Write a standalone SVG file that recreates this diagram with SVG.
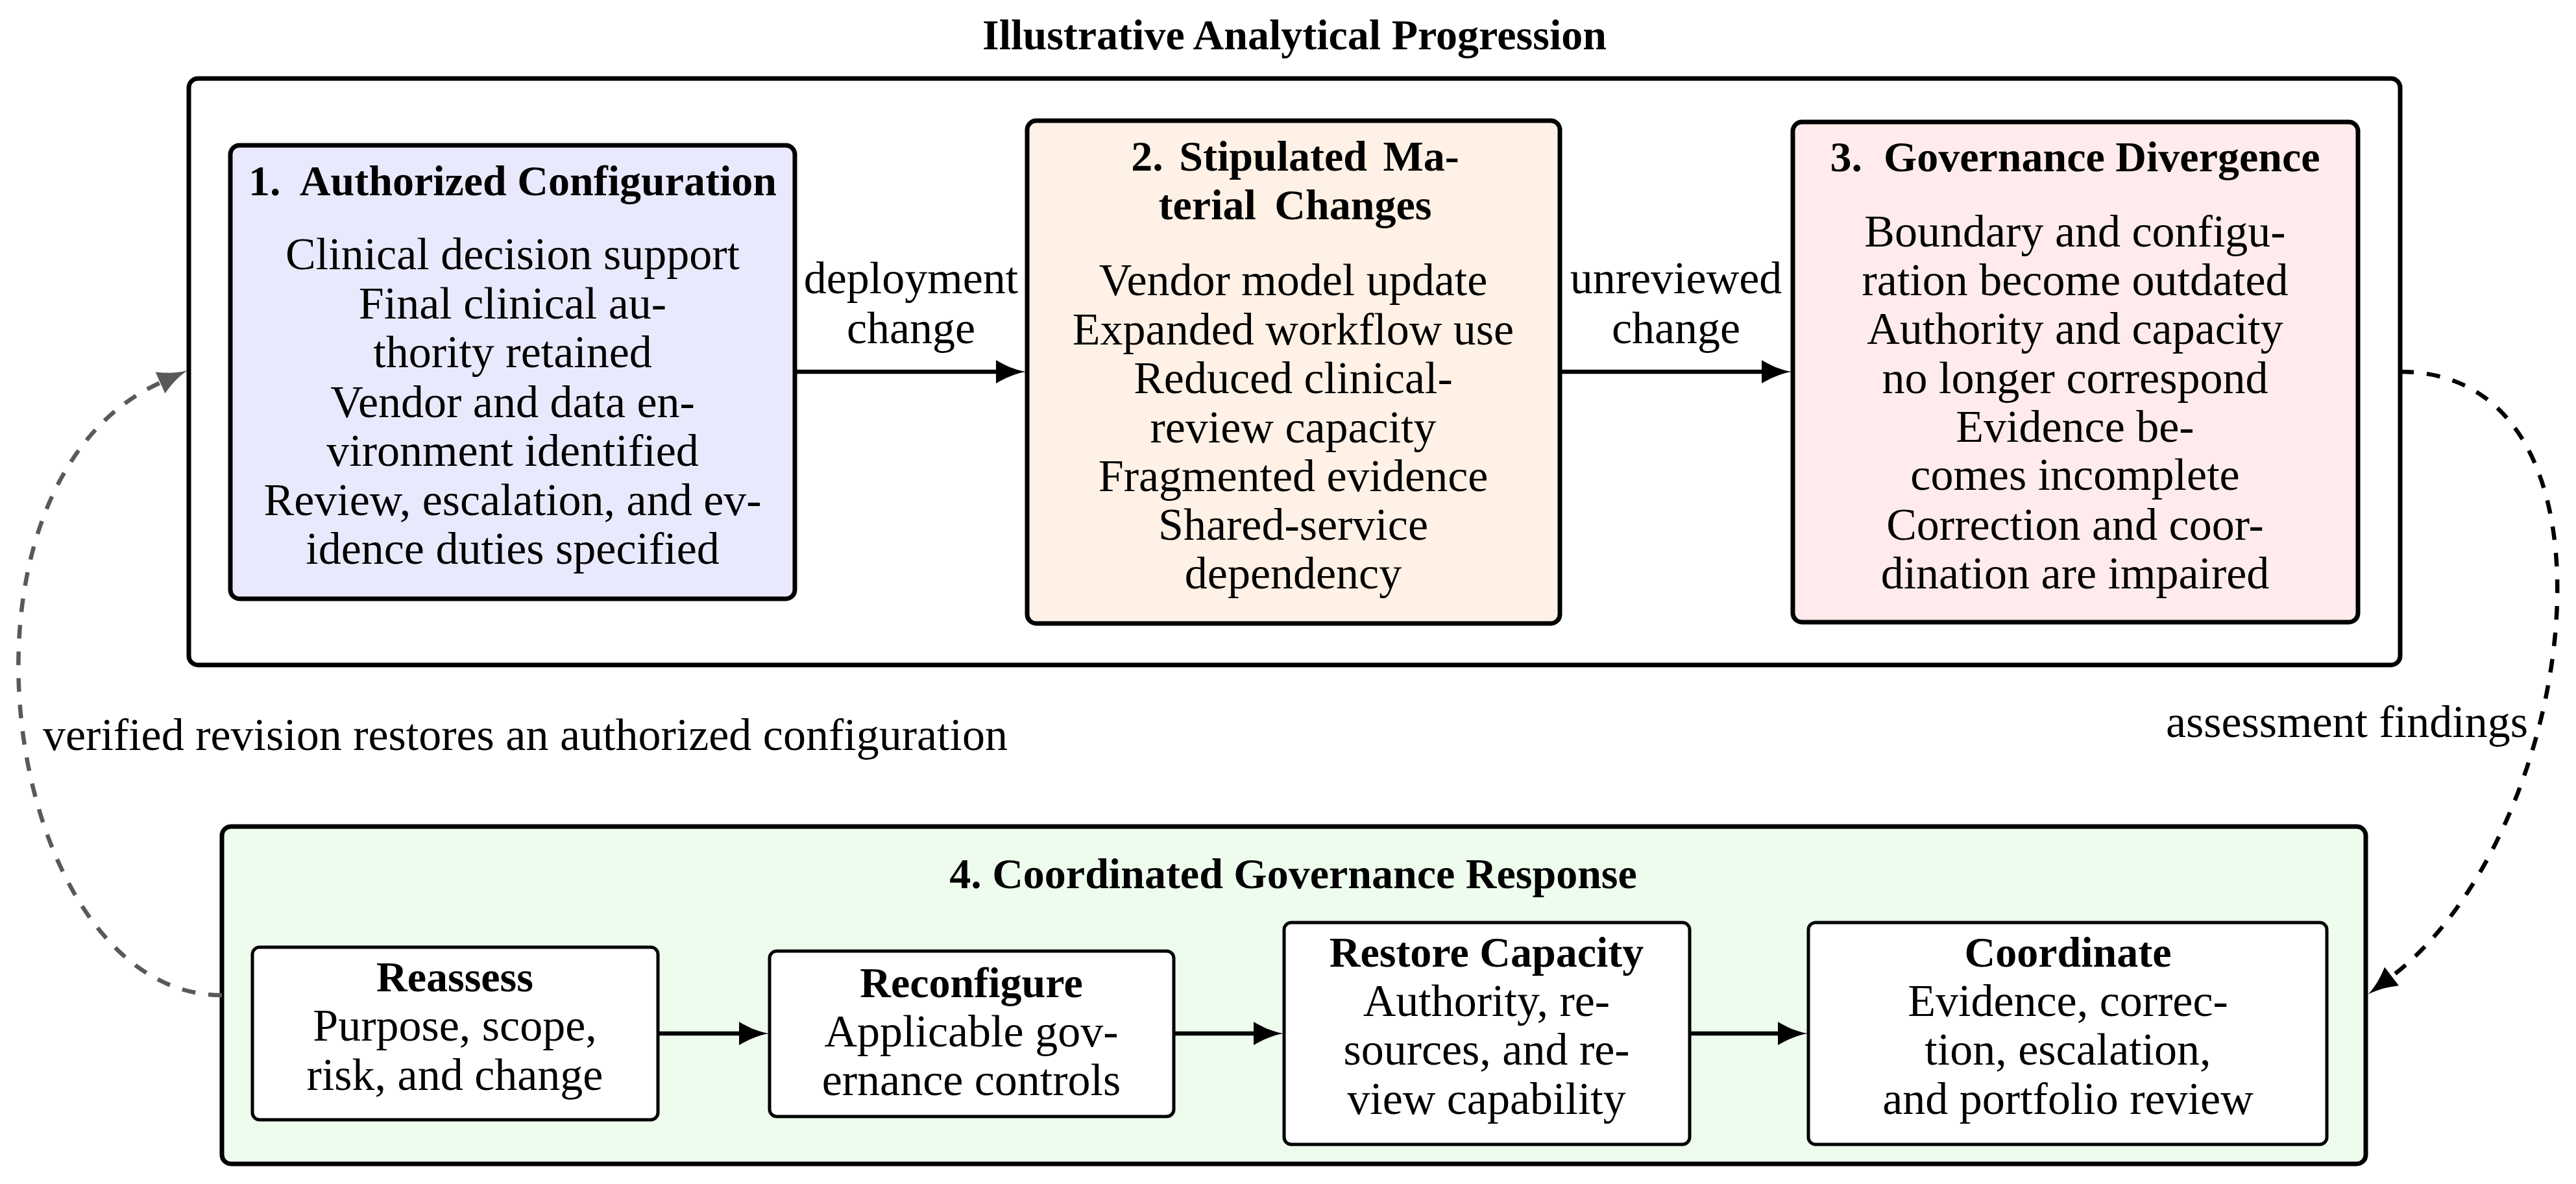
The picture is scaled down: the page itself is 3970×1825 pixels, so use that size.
<svg xmlns="http://www.w3.org/2000/svg" width="3970" height="1825" viewBox="0 0 3970 1825">
<style>
.frame{fill:#fff;stroke:#000;stroke-width:7}
.big{stroke:#000;stroke-width:7}
.small{fill:#fff;stroke:#000;stroke-width:5}
.t{font-family:"Liberation Serif","Times New Roman",serif;font-size:70px;text-anchor:middle;fill:#000}
.b{font-weight:bold;font-size:66px}
.l{font-family:"Liberation Serif","Times New Roman",serif;font-size:70px;fill:#000}
.arr{fill:none;stroke:#000;stroke-width:6.5;marker-end:url(#ah)}
.dash{fill:none;stroke:#000;stroke-width:6.5;stroke-dasharray:21 20;marker-end:url(#ah)}
.gdash{fill:none;stroke:#595959;stroke-width:6.5;stroke-dasharray:21 20;marker-end:url(#ahg)}
</style>
<defs>
<marker id="ah" markerUnits="userSpaceOnUse" markerWidth="50" markerHeight="40" viewBox="0 -20 50 40" refX="0" refY="0" orient="auto" overflow="visible">
<path d="M0,-18 C14,-10 28,-3 46,0 C28,3 14,10 0,18 Z" fill="#000"/>
</marker>
<marker id="ahg" markerUnits="userSpaceOnUse" markerWidth="50" markerHeight="40" viewBox="0 -20 50 40" refX="0" refY="0" orient="auto" overflow="visible">
<path d="M0,-18 C14,-10 28,-3 46,0 C28,3 14,10 0,18 Z" fill="#595959"/>
</marker>
</defs>

<text class="t b" x="1995" y="76">Illustrative Analytical Progression</text>

<g id="progression-frame">
<rect class="frame" x="291" y="121" width="3408" height="904" rx="14"/>
</g>

<g id="node1">
<rect class="big" x="355" y="224" width="870" height="699" rx="14" fill="#E9E9FD"/>
<text class="t b" x="790" y="301">1.&#160; Authorized Configuration</text>
<text class="t" x="790" y="415">Clinical decision support</text>
<text class="t" x="790" y="491">Final clinical au-</text>
<text class="t" x="790" y="566">thority retained</text>
<text class="t" x="790" y="643">Vendor and data en-</text>
<text class="t" x="790" y="718">vironment identified</text>
<text class="t" x="790" y="794">Review, escalation, and ev-</text>
<text class="t" x="790" y="869">idence duties specified</text>
</g>

<g id="node2">
<rect class="big" x="1583" y="186" width="821" height="775" rx="14" fill="#FFF1E5"/>
<text class="t b" x="1996" y="263" word-spacing="8">2. Stipulated Ma-</text>
<text class="t b" x="1996" y="338" word-spacing="12">terial Changes</text>
<text class="t" x="1993" y="455">Vendor model update</text>
<text class="t" x="1993" y="531">Expanded workflow use</text>
<text class="t" x="1993" y="606">Reduced clinical-</text>
<text class="t" x="1993" y="682">review capacity</text>
<text class="t" x="1993" y="757">Fragmented evidence</text>
<text class="t" x="1993" y="832">Shared-service</text>
<text class="t" x="1993" y="907">dependency</text>
</g>

<g id="node3">
<rect class="big" x="2763" y="188" width="871" height="771" rx="14" fill="#FFEBEB"/>
<text class="t b" x="3198" y="264">3.&#160; Governance Divergence</text>
<text class="t" x="3198" y="380">Boundary and configu-</text>
<text class="t" x="3198" y="455">ration become outdated</text>
<text class="t" x="3198" y="530">Authority and capacity</text>
<text class="t" x="3198" y="606">no longer correspond</text>
<text class="t" x="3198" y="681">Evidence be-</text>
<text class="t" x="3198" y="755">comes incomplete</text>
<text class="t" x="3198" y="832">Correction and coor-</text>
<text class="t" x="3198" y="907">dination are impaired</text>
</g>

<g id="node4">
<rect class="big" x="342" y="1274" width="3304" height="520" rx="14" fill="#EEFCEE"/>
<text class="t b" x="1993" y="1369">4. Coordinated Governance Response</text>
</g>

<g id="reassess">
<rect class="small" x="389" y="1460" width="625" height="266" rx="11"/>
<text class="t b" x="701" y="1528">Reassess</text>
<text class="t" x="701" y="1604">Purpose, scope,</text>
<text class="t" x="701" y="1680">risk, and change</text>
</g>

<g id="reconfigure">
<rect class="small" x="1186" y="1466" width="623" height="255" rx="11"/>
<text class="t b" x="1497" y="1537">Reconfigure</text>
<text class="t" x="1497" y="1613">Applicable gov-</text>
<text class="t" x="1497" y="1688">ernance controls</text>
</g>

<g id="restore">
<rect class="small" x="1979" y="1422" width="625" height="342" rx="11"/>
<text class="t b" x="2291" y="1490">Restore Capacity</text>
<text class="t" x="2291" y="1566">Authority, re-</text>
<text class="t" x="2291" y="1641">sources, and re-</text>
<text class="t" x="2291" y="1717">view capability</text>
</g>

<g id="coordinate">
<rect class="small" x="2787" y="1422" width="799" height="342" rx="11"/>
<text class="t b" x="3187" y="1490">Coordinate</text>
<text class="t" x="3187" y="1566">Evidence, correc-</text>
<text class="t" x="3187" y="1641">tion, escalation,</text>
<text class="t" x="3187" y="1717">and portfolio review</text>
</g>

<g id="connectors">
<line class="arr" x1="1225" y1="573" x2="1535" y2="573"/>
<text class="t" x="1404" y="452">deployment</text>
<text class="t" x="1404" y="529">change</text>
<line class="arr" x1="2404" y1="573" x2="2715" y2="573"/>
<text class="t" x="2583" y="452">unreviewed</text>
<text class="t" x="2583" y="529">change</text>
<line class="arr" x1="1014" y1="1593" x2="1139" y2="1593"/>
<line class="arr" x1="1809" y1="1593" x2="1932" y2="1593"/>
<line class="arr" x1="2604" y1="1593" x2="2740" y2="1593"/>
<path class="dash" d="M3699,573 C4069,573 3975,1285 3686,1505"/>
<text class="l" x="3896" y="1136" text-anchor="end">assessment findings</text>
<path class="gdash" d="M342,1534 C5,1534 -110,751 247,590"/>
<text class="l" x="66" y="1156">verified revision restores an authorized configuration</text>
</g>
</svg>
